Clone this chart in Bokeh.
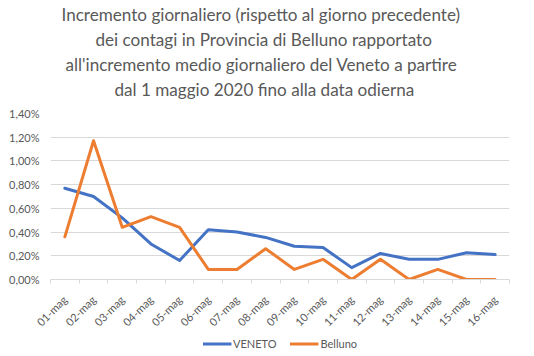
import math
from bokeh.plotting import figure
from bokeh.layouts import column
from bokeh.models import (FixedTicker, Legend, LegendItem, ColumnDataSource, Range1d, Title)
from bokeh.embed import file_html
from bokeh.resources import INLINE

# ---- data ----
dates = ["01-mag", "02-mag", "03-mag", "04-mag", "05-mag", "06-mag", "07-mag", "08-mag",
         "09-mag", "10-mag", "11-mag", "12-mag", "13-mag", "14-mag", "15-mag", "16-mag"]
veneto = [0.77, 0.70, 0.52, 0.30, 0.16, 0.42, 0.40, 0.355, 0.28, 0.27, 0.10, 0.22, 0.17, 0.17, 0.225, 0.21]
belluno = [0.36, 1.17, 0.44, 0.53, 0.44, 0.085, 0.085, 0.26, 0.085, 0.17, 0.0, 0.17, 0.0, 0.085, 0.0, 0.0]
y_ticks = [0.0, 0.2, 0.4, 0.6, 0.8, 1.0, 1.2, 1.4]
y_tick_labels = ["0,00%", "0,20%", "0,40%", "0,60%", "0,80%", "1,00%", "1,20%", "1,40%"]
series_names = ["VENETO", "Belluno"]
series_colors = ["#4472C4", "#ED7D31"]
title_lines = ["Incremento giornaliero  (rispetto al giorno precedente)",
               "dei contagi in Provincia di Belluno rapportato",
               "all'incremento medio giornaliero del Veneto a partire",
               "dal 1 maggio 2020 fino alla data odierna"]
title_offsets = [11, 45, 15, 64]

FONT = "Lato"
GRAY = "#595959"
W = 534

# ---- main chart ----
xs = [i + 0.5 for i in range(len(dates))]
src = ColumnDataSource(dict(x=xs, veneto=veneto, belluno=belluno))

p = figure(width=W, height=336, output_backend="svg", toolbar_location=None,
           x_range=Range1d(0, len(dates)), y_range=Range1d(0, 1.4),
           min_border_left=50, min_border_right=25, min_border_top=0, min_border_bottom=57)
p.outline_line_color = None

# spacer between the title block and the plot area
p.add_layout(Title(text=" ", text_font=FONT, text_font_size="9px", standoff=0), "above")
for line, off in zip(reversed(title_lines), reversed(title_offsets)):
    p.add_layout(Title(text=line, align="left", offset=off, text_font=FONT,
                       text_font_size="17.1px", text_font_style="normal", text_color=GRAY,
                       standoff=2), "above")

p.yaxis.ticker = FixedTicker(ticks=y_ticks)
p.yaxis.major_label_overrides = {t: l for t, l in zip(y_ticks, y_tick_labels)}
p.yaxis.axis_line_color = None
p.yaxis.major_tick_line_color = None
p.yaxis.minor_tick_line_color = None
p.yaxis.major_tick_out = 0
p.yaxis.major_label_standoff = 11
p.yaxis.major_label_text_font = FONT
p.yaxis.major_label_text_font_size = "11px"
p.yaxis.major_label_text_color = GRAY

p.xaxis.ticker = FixedTicker(ticks=xs, minor_ticks=list(range(len(dates) + 1)))
p.xaxis.major_label_overrides = {x: d for x, d in zip(xs, dates)}
p.xaxis.axis_line_color = "#d9d9d9"
p.xaxis.major_tick_line_color = None
p.xaxis.major_tick_out = 0
p.xaxis.major_tick_in = 0
p.xaxis.minor_tick_line_color = "#d9d9d9"
p.xaxis.minor_tick_in = 0
p.xaxis.minor_tick_out = 4
p.xaxis.major_label_orientation = math.pi / 4
p.xaxis.major_label_standoff = 14
p.xaxis.major_label_text_font = FONT
p.xaxis.major_label_text_font_size = "11px"
p.xaxis.major_label_text_color = GRAY

p.xgrid.grid_line_color = None
p.ygrid.grid_line_color = "#d9d9d9"
p.ygrid.ticker = FixedTicker(ticks=y_ticks)

p.line("x", "veneto", source=src, line_color=series_colors[0], line_width=3,
       line_join="round", line_cap="round")
p.line("x", "belluno", source=src, line_color=series_colors[1], line_width=3,
       line_join="round", line_cap="round")

# ---- legend block ----
pl = figure(width=W, height=14, output_backend="svg", toolbar_location=None,
            x_axis_type=None, y_axis_type=None,
            min_border_left=0, min_border_right=10, min_border_top=0, min_border_bottom=0)
pl.outline_line_color = None
items = []
for name, col in zip(series_names, series_colors):
    r = pl.line(x=[float("nan")], y=[float("nan")], line_color=col, line_width=3)
    items.append(LegendItem(label=name, renderers=[r]))
legend = Legend(items=items, orientation="horizontal", location="center",
                border_line_color=None, background_fill_alpha=0,
                glyph_width=29, glyph_height=12, label_height=12, label_width=10,
                label_standoff=2, spacing=13, padding=0, margin=0,
                label_text_font=FONT, label_text_font_size="11px", label_text_color=GRAY)
pl.add_layout(legend, "center")

layout = column(p, pl, spacing=0)
open("out.html", "w").write(file_html(layout, INLINE))
